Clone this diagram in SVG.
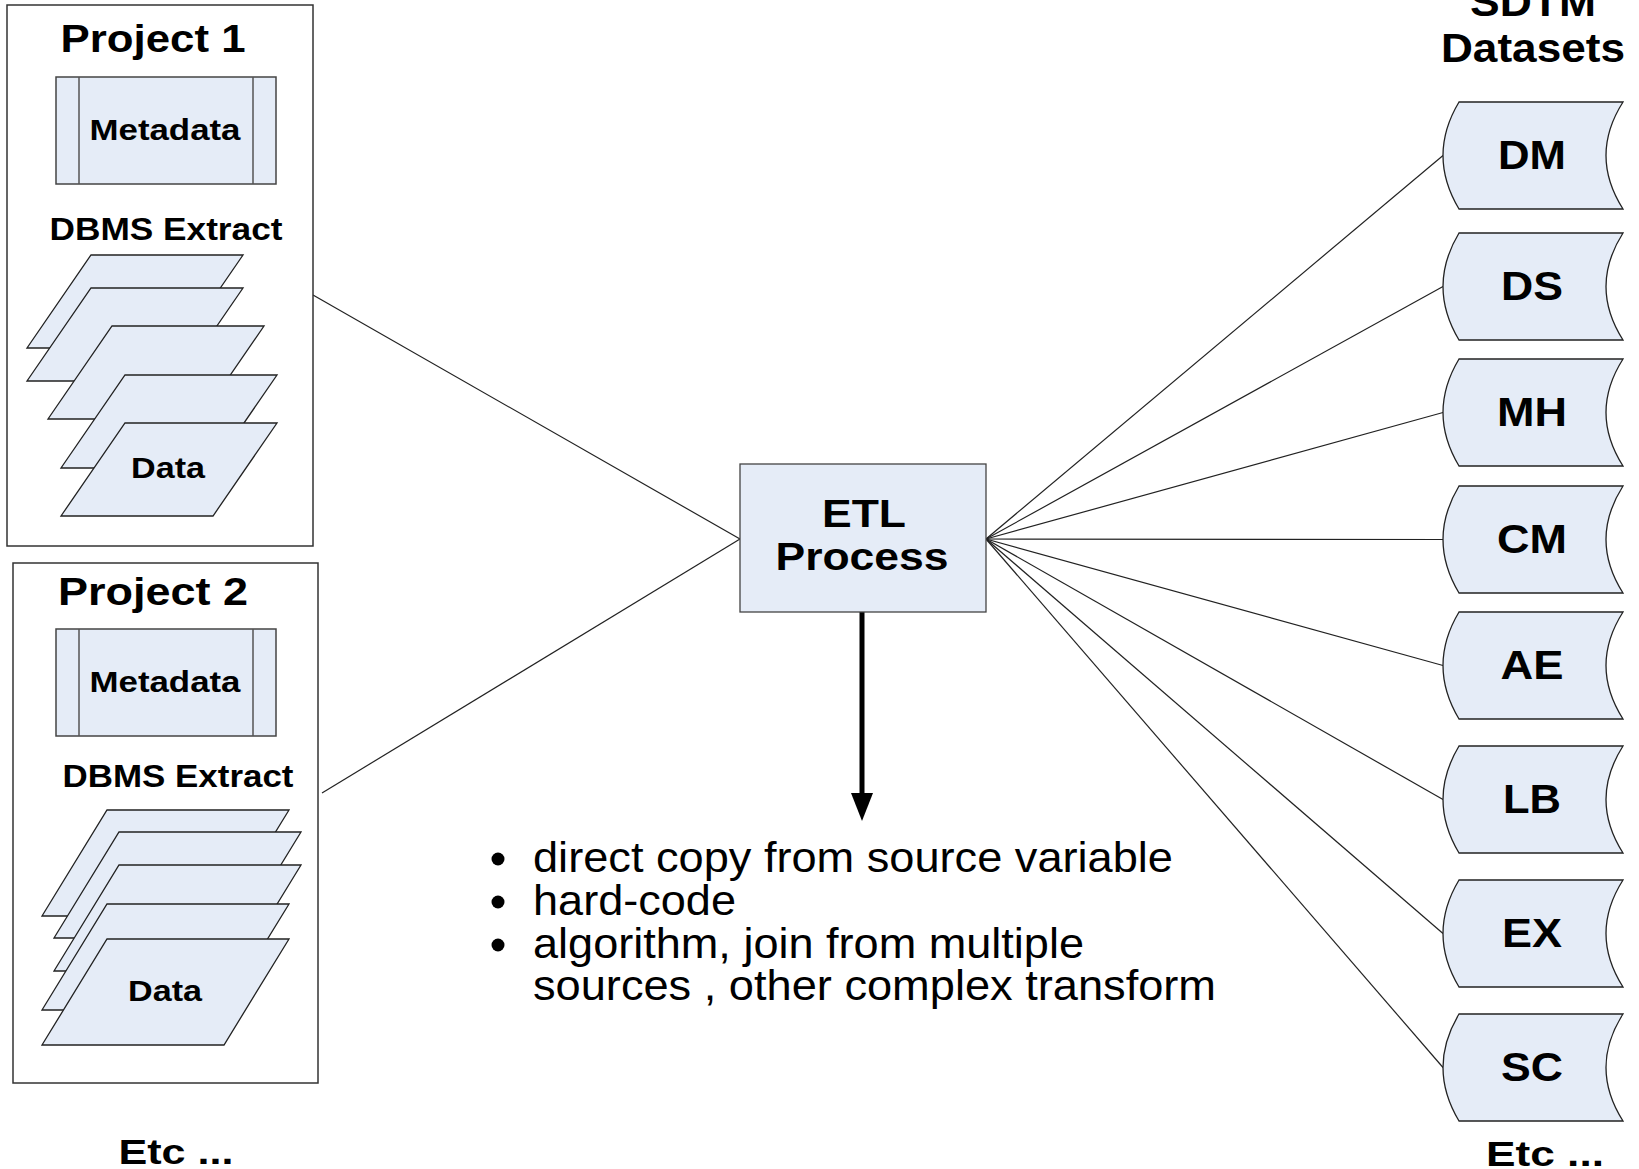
<svg xmlns="http://www.w3.org/2000/svg" xmlns:xlink="http://www.w3.org/1999/xlink" width="1639" height="1169" viewBox="0 0 1639 1169">
<style>
.box{fill:#ffffff;stroke:#333333;stroke-width:1.5}
.fill{fill:#E5ECF7;stroke:#222222;stroke-width:1.3}
.meta{fill:#E5ECF7;stroke:#444444;stroke-width:1.5}
.side{stroke:#555555;stroke-width:1.5}
.b{font-family:"Liberation Sans",Arial,Helvetica,sans-serif;font-weight:bold;fill:#000000;text-anchor:middle}
.r{font-family:"Liberation Sans",Arial,Helvetica,sans-serif;fill:#000000;font-size:42px}
.conn line{stroke:#222222;stroke-width:1.2}
</style>
<defs>
<path id="ds" d="M 1459 0 L 1623 0 Q 1589 53.5 1623 107 L 1459 107 Q 1427 53.5 1459 0 Z"/>
</defs>
<rect width="1639" height="1169" fill="#ffffff"/>

<g id="connectors" class="conn">
<line x1="313" y1="295" x2="740" y2="539"/>
<line x1="322" y1="793" x2="740" y2="539"/>
<line x1="986" y1="539" x2="1443" y2="155.5"/>
<line x1="986" y1="539" x2="1443" y2="286.5"/>
<line x1="986" y1="539" x2="1443" y2="412.5"/>
<line x1="986" y1="539" x2="1443" y2="539.5"/>
<line x1="986" y1="539" x2="1443" y2="665.5"/>
<line x1="986" y1="539" x2="1443" y2="799.5"/>
<line x1="986" y1="539" x2="1443" y2="933.5"/>
<line x1="986" y1="539" x2="1443" y2="1067.5"/>
<line x1="862" y1="612" x2="862" y2="796" style="stroke:#000000;stroke-width:5"/>
<polygon points="851,793 873,793 862,821" fill="#000000"/>
</g>

<g id="project1">
<rect class="box" x="7" y="5" width="306" height="541"/>
<text class="b" x="153" y="52" font-size="38" textLength="185" lengthAdjust="spacingAndGlyphs">Project 1</text>
<g id="metadata1">
<rect class="meta" x="56" y="77" width="220" height="107"/>
<line class="side" x1="79" y1="77" x2="79" y2="184"/>
<line class="side" x1="253" y1="77" x2="253" y2="184"/>
<text class="b" x="165" y="140" font-size="29" textLength="151" lengthAdjust="spacingAndGlyphs">Metadata</text>
</g>
<text class="b" x="166" y="240" font-size="31" textLength="233" lengthAdjust="spacingAndGlyphs">DBMS Extract</text>
<g id="data1">
<polygon class="fill" points="91,255 243,255 179,348 27,348"/>
<polygon class="fill" points="91,288 243,288 179,381 27,381"/>
<polygon class="fill" points="112,326 264,326 200,419 48,419"/>
<polygon class="fill" points="125,375 277,375 213,468 61,468"/>
<polygon class="fill" points="125,423 277,423 213,516 61,516"/>
<text class="b" x="168" y="478" font-size="30" textLength="74" lengthAdjust="spacingAndGlyphs">Data</text>
</g>
</g>

<g id="project2">
<rect class="box" x="13" y="563" width="305" height="520"/>
<text class="b" x="153" y="605" font-size="38" textLength="190" lengthAdjust="spacingAndGlyphs">Project 2</text>
<g id="metadata2">
<rect class="meta" x="56" y="629" width="220" height="107"/>
<line class="side" x1="79" y1="629" x2="79" y2="736"/>
<line class="side" x1="253" y1="629" x2="253" y2="736"/>
<text class="b" x="165" y="692" font-size="29" textLength="151" lengthAdjust="spacingAndGlyphs">Metadata</text>
</g>
<text class="b" x="178" y="787" font-size="31" textLength="231" lengthAdjust="spacingAndGlyphs">DBMS Extract</text>
<g id="data2">
<polygon class="fill" points="107,810 289,810 224,916 42,916"/>
<polygon class="fill" points="119,832 301,832 236,938 54,938"/>
<polygon class="fill" points="119,865 301,865 236,971 54,971"/>
<polygon class="fill" points="107,904 289,904 224,1010 42,1010"/>
<polygon class="fill" points="107,939 289,939 224,1045 42,1045"/>
<text class="b" x="165" y="1001" font-size="30" textLength="74" lengthAdjust="spacingAndGlyphs">Data</text>
</g>
</g>

<text id="etc-left" class="b" x="176" y="1164" font-size="35" textLength="115" lengthAdjust="spacingAndGlyphs">Etc ...</text>

<g id="etl">
<rect class="fill" x="740" y="464" width="246" height="148" style="stroke:#444444"/>
<text class="b" x="864" y="527" font-size="38" textLength="84" lengthAdjust="spacingAndGlyphs">ETL</text>
<text class="b" x="862" y="570" font-size="38" textLength="173" lengthAdjust="spacingAndGlyphs">Process</text>
</g>

<g id="notes">
<circle cx="498" cy="859" r="6.5" fill="#000000"/>
<circle cx="498" cy="902" r="6.5" fill="#000000"/>
<circle cx="498" cy="945" r="6.5" fill="#000000"/>
<text class="r" x="533" y="872" textLength="640" lengthAdjust="spacingAndGlyphs">direct copy from source variable</text>
<text class="r" x="533" y="915" textLength="203" lengthAdjust="spacingAndGlyphs">hard-code</text>
<text class="r" x="533" y="958" textLength="551" lengthAdjust="spacingAndGlyphs">algorithm, join from multiple</text>
<text class="r" x="533" y="1000" textLength="683" lengthAdjust="spacingAndGlyphs">sources , other complex transform</text>
</g>

<g id="sdtm-title">
<text class="b" x="1533" y="16" font-size="40" textLength="126" lengthAdjust="spacingAndGlyphs">SDTM</text>
<text class="b" x="1533" y="62" font-size="40" textLength="184" lengthAdjust="spacingAndGlyphs">Datasets</text>
</g>

<g id="dm"><use xlink:href="#ds" class="fill" y="102"/><text class="b" x="1532" y="169" font-size="40" textLength="68" lengthAdjust="spacingAndGlyphs">DM</text></g>
<g id="dsn"><use xlink:href="#ds" class="fill" y="233"/><text class="b" x="1532" y="300" font-size="40" textLength="62" lengthAdjust="spacingAndGlyphs">DS</text></g>
<g id="mh"><use xlink:href="#ds" class="fill" y="359"/><text class="b" x="1532" y="426" font-size="40" textLength="70" lengthAdjust="spacingAndGlyphs">MH</text></g>
<g id="cm"><use xlink:href="#ds" class="fill" y="486"/><text class="b" x="1532" y="553" font-size="40" textLength="70" lengthAdjust="spacingAndGlyphs">CM</text></g>
<g id="ae"><use xlink:href="#ds" class="fill" y="612"/><text class="b" x="1532" y="679" font-size="40" textLength="63" lengthAdjust="spacingAndGlyphs">AE</text></g>
<g id="lb"><use xlink:href="#ds" class="fill" y="746"/><text class="b" x="1532" y="813" font-size="40" textLength="58" lengthAdjust="spacingAndGlyphs">LB</text></g>
<g id="ex"><use xlink:href="#ds" class="fill" y="880"/><text class="b" x="1532" y="947" font-size="40" textLength="60" lengthAdjust="spacingAndGlyphs">EX</text></g>
<g id="sc"><use xlink:href="#ds" class="fill" y="1014"/><text class="b" x="1532" y="1081" font-size="40" textLength="62" lengthAdjust="spacingAndGlyphs">SC</text></g>

<text id="etc-right" class="b" x="1545" y="1166" font-size="35" textLength="118" lengthAdjust="spacingAndGlyphs">Etc ...</text>
</svg>
